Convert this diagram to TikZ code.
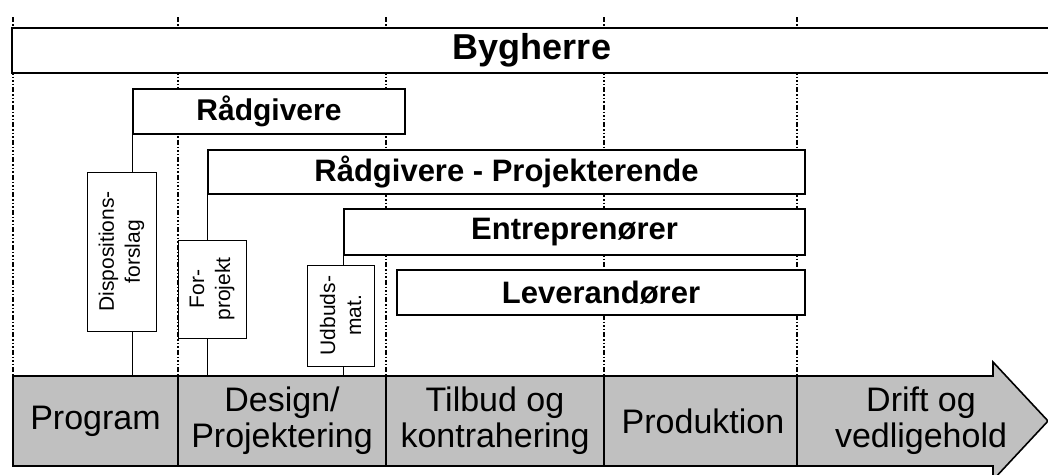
\documentclass[tikz,border=0pt]{standalone}
\usepackage{fontspec}
\setmainfont{Liberation Sans}
\definecolor{phasegray}{HTML}{C0C0C0}
\tikzset{
  phaseline/.style={line width=2pt, dash pattern=on 5pt off 2pt on 1.5pt off 2pt on 1.5pt off 2pt on 1.5pt off 2pt},
  actor/.style={draw, line width=2pt, fill=white, inner sep=0pt, font=\bfseries\fontsize{31}{34}\selectfont},
  docbox/.style={draw, line width=1pt, fill=white, inner sep=0pt},
  doctext/.style={rotate=90, align=center, inner sep=0pt, font=\fontsize{21}{26}\selectfont},
  phasetext/.style={align=center, inner sep=0pt, minimum height=90pt, font=\fontsize{34}{36}\selectfont},
  conn/.style={line width=1pt},
  divider/.style={line width=1.6pt}
}
\begin{document}
\begin{tikzpicture}[x=1pt,y=-1pt]
\useasboundingbox (0,0) rectangle (1048,474);
\clip (0,0) rectangle (1048,474);
% phase separators
\foreach \xx/\nm in {13/a,178/b,386/c,604/d,797/e}{
  \coordinate (top\nm) at (\xx,17);
  \coordinate (bot\nm) at (\xx,376);
  \draw[phaseline] (top\nm) -- (bot\nm);
}
% phase arrow
\draw[fill=phasegray, line width=1.6pt, line join=miter]
  (13,376) -- (993,376) -- (993,362) -- (1048,421) -- (993,480) -- (993,466) -- (13,466) -- cycle;
\foreach \xx in {178,386,604,797}{
  \draw[divider] (\xx,376) -- (\xx,466);
}
\node[phasetext, minimum width=165pt] (p1) at (95.5,421) {Program};
\node[phasetext, minimum width=208pt] (p2) at (282,421) {Design/\\Projektering};
\node[phasetext, minimum width=218pt] (p3) at (495,421) {Tilbud og\\kontrahering};
\node[phasetext, minimum width=193pt] (p4) at (703,421) {Produktion};
\node[phasetext, minimum width=240pt] (p5) at (921,421) {Drift og\\vedligehold};
% actors
\node[actor, minimum width=1040pt, minimum height=45pt, font=\bfseries\fontsize{36}{40}\selectfont] (byg) at (532,50.5) {Bygherre};
\node[actor, minimum width=272pt, minimum height=45pt, font=\bfseries\fontsize{30}{34}\selectfont] (raad) at (269,111.5) {Rådgivere};
\node[actor, minimum width=597pt, minimum height=44pt] (rp) at (506.5,172) {Rådgivere - Projekterende};
\node[actor, minimum width=461pt, minimum height=46pt] (entr) at (574.5,232) {Entreprenører};
\node[actor, minimum width=408pt, minimum height=45pt] (lev) at (601,292.5) {Leverandører};
% documents
\node[docbox, minimum width=69pt, minimum height=159pt] (dispo) at (121.5,251.5) {};
\node[doctext] (dispoT) at (dispo) {Dispositions-\\forslag};
\node[docbox, minimum width=68pt, minimum height=98pt] (forp) at (212,289) {};
\node[doctext] (forpT) at (forp) {For-\\projekt};
\node[docbox, minimum width=67pt, minimum height=101pt] (udb) at (340.5,315.5) {};
\node[doctext] (udbT) at (udb) {Udbuds-\\mat.};
% connectors
\draw[conn] (raad.south west) -- (raad.south west |- dispo.north);
\draw[conn] (raad.south west |- dispo.south) -- (raad.south west |- p1.north);
\draw[conn] (rp.south west) -- (rp.south west |- forp.north);
\draw[conn] (rp.south west |- forp.south) -- (rp.south west |- p2.north);
\draw[conn] (entr.south west) -- (entr.south west |- udb.north);
\draw[conn] (entr.south west |- udb.south) -- (entr.south west |- p2.north);
\end{tikzpicture}
\end{document}
